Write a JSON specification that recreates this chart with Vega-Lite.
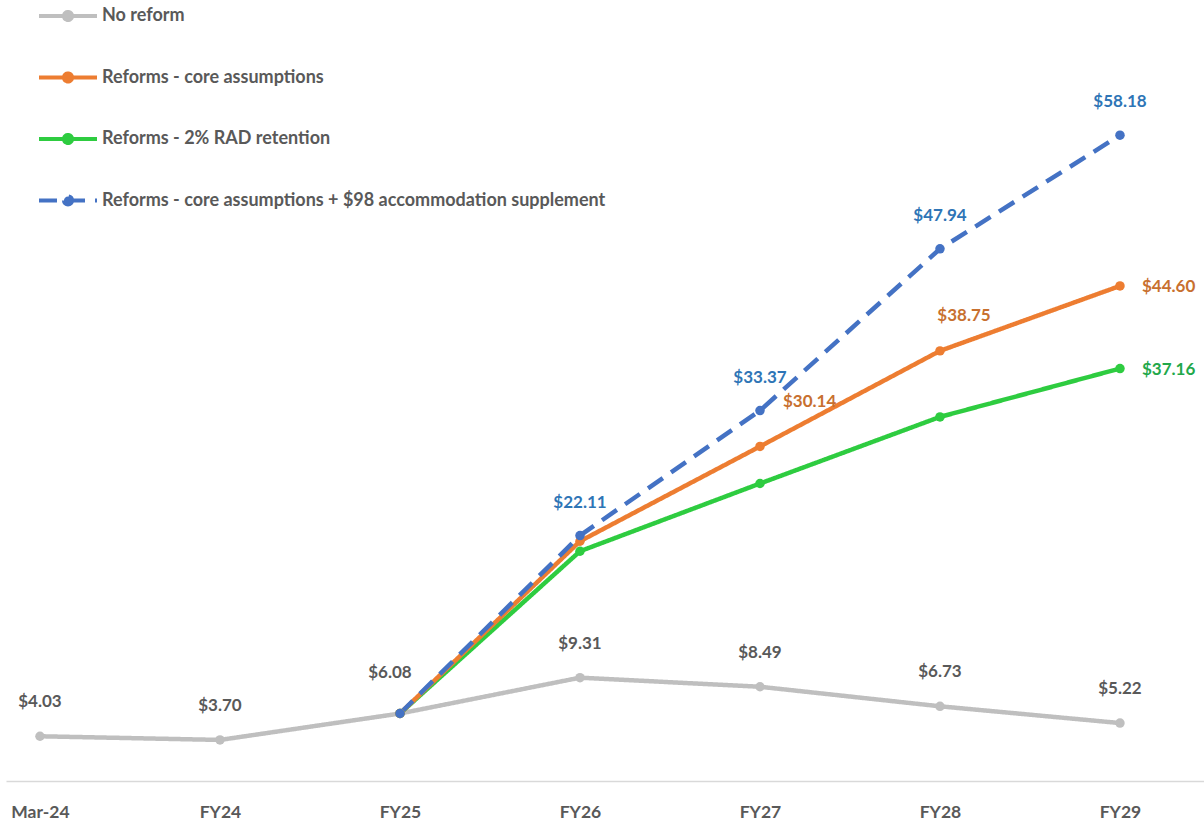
{
  "$schema": "https://vega.github.io/schema/vega-lite/v6.json",
  "width": 1198,
  "height": 777,
  "autosize": {"type": "none"},
  "padding": {"left": 6, "top": 4, "right": 0, "bottom": 43},
  "background": "white",
  "config": {"view": {"stroke": null}, "font": "Lato"},
  "data": {
    "values": [
      {"series": "No reform", "period": "Mar-24", "value": 4.03},
      {"series": "No reform", "period": "FY24", "value": 3.70},
      {"series": "No reform", "period": "FY25", "value": 6.08},
      {"series": "No reform", "period": "FY26", "value": 9.31},
      {"series": "No reform", "period": "FY27", "value": 8.49},
      {"series": "No reform", "period": "FY28", "value": 6.73},
      {"series": "No reform", "period": "FY29", "value": 5.22},
      {"series": "Reforms - 2% RAD retention", "period": "FY25", "value": 6.08},
      {"series": "Reforms - 2% RAD retention", "period": "FY26", "value": 20.7},
      {"series": "Reforms - 2% RAD retention", "period": "FY27", "value": 26.8},
      {"series": "Reforms - 2% RAD retention", "period": "FY28", "value": 32.8},
      {"series": "Reforms - 2% RAD retention", "period": "FY29", "value": 37.16},
      {"series": "Reforms - core assumptions", "period": "FY25", "value": 6.08},
      {"series": "Reforms - core assumptions", "period": "FY26", "value": 21.6},
      {"series": "Reforms - core assumptions", "period": "FY27", "value": 30.14},
      {"series": "Reforms - core assumptions", "period": "FY28", "value": 38.75},
      {"series": "Reforms - core assumptions", "period": "FY29", "value": 44.60},
      {"series": "Reforms - core assumptions + $98 accommodation supplement", "period": "FY25", "value": 6.08},
      {"series": "Reforms - core assumptions + $98 accommodation supplement", "period": "FY26", "value": 22.11},
      {"series": "Reforms - core assumptions + $98 accommodation supplement", "period": "FY27", "value": 33.37},
      {"series": "Reforms - core assumptions + $98 accommodation supplement", "period": "FY28", "value": 47.94},
      {"series": "Reforms - core assumptions + $98 accommodation supplement", "period": "FY29", "value": 58.18}
    ]
  },
  "encoding": {
    "x": {
      "field": "period", "type": "ordinal",
      "sort": ["Mar-24", "FY24", "FY25", "FY26", "FY27", "FY28", "FY29"],
      "scale": {"type": "point", "padding": 0.3278, "align": 0.288},
      "axis": {"title": null, "labelAngle": 0, "ticks": false, "grid": false, "domainColor": "#D9D9D9", "domainWidth": 1.5, "labelFont": "Lato", "labelFontSize": 17.5, "labelFontWeight": "bold", "labelColor": "#595959", "labelPadding": 22}
    },
    "y": {"field": "value", "type": "quantitative", "scale": {"domain": [0, 70]}, "axis": null}
  },
  "layer": [
    {
      "mark": {"type": "line", "strokeWidth": 4.5, "point": {"filled": true, "size": 90, "opacity": 1}},
      "encoding": {
        "color": {
          "field": "series", "type": "nominal",
          "scale": {
            "domain": ["No reform", "Reforms - core assumptions", "Reforms - 2% RAD retention", "Reforms - core assumptions + $98 accommodation supplement"],
            "range": ["#BFBFBF", "#ED7D31", "#2ECC40", "#4472C4"]
          },
          "legend": {"title": null, "orient": "none", "legendX": 31, "legendY": -19, "padding": 0, "symbolType": "M-1,0H1M-0.14,0A0.14,0.14 0 1,0 0.14,0A0.14,0.14 0 1,0 -0.14,0Z", "symbolSize": 3364, "symbolStrokeWidth": 4, "labelFont": "Lato", "labelFontSize": 18, "labelFontWeight": "bold", "labelColor": "#595959", "labelOffset": 3, "rowPadding": 17.5, "labelLimit": 0, "encode": {"symbols": {"update": {"fill": {"scale": "color", "field": "value"}, "opacity": {"value": 1}}}}}
        },
        "strokeDash": {
          "field": "series", "type": "nominal",
          "scale": {
            "domain": ["No reform", "Reforms - core assumptions", "Reforms - 2% RAD retention", "Reforms - core assumptions + $98 accommodation supplement"],
            "range": [[1, 0], [1, 0], [1, 0], [18, 10]]
          },
          "legend": {"title": null, "orient": "none", "legendX": 31, "legendY": -19, "padding": 0, "symbolType": "M-1,0H1M-0.14,0A0.14,0.14 0 1,0 0.14,0A0.14,0.14 0 1,0 -0.14,0Z", "symbolSize": 3364, "symbolStrokeWidth": 4, "labelFont": "Lato", "labelFontSize": 18, "labelFontWeight": "bold", "labelColor": "#595959", "labelOffset": 3, "rowPadding": 17.5, "labelLimit": 0, "encode": {"symbols": {"update": {"fill": {"scale": "color", "field": "value"}, "opacity": {"value": 1}}}}}
        }
      }
    },
    {
      "transform": [{"filter": "datum.series === 'No reform' && datum.period !== 'FY25'"}],
      "mark": {"type": "text", "font": "Lato", "fontSize": 17, "fontWeight": "bold", "color": "#595959", "dy": -34},
      "encoding": {"text": {"field": "value", "type": "quantitative", "format": "$.2f"}}
    },
    {
      "transform": [{"filter": "datum.series === 'No reform' && datum.period === 'FY25'"}],
      "mark": {"type": "text", "font": "Lato", "fontSize": 17, "fontWeight": "bold", "color": "#595959", "dx": -10, "dy": -41},
      "encoding": {"text": {"field": "value", "type": "quantitative", "format": "$.2f"}}
    },
    {
      "transform": [{"filter": "datum.series === 'Reforms - core assumptions + $98 accommodation supplement' && datum.period !== 'FY25'"}],
      "mark": {"type": "text", "font": "Lato", "fontSize": 17, "fontWeight": "bold", "color": "#2E75B6", "dy": -33},
      "encoding": {"text": {"field": "value", "type": "quantitative", "format": "$.2f"}}
    },
    {
      "transform": [{"filter": "datum.series === 'Reforms - core assumptions' && datum.period === 'FY28'"}],
      "mark": {"type": "text", "font": "Lato", "fontSize": 17, "fontWeight": "bold", "color": "#C8702F", "dx": 24, "dy": -35},
      "encoding": {"text": {"field": "value", "type": "quantitative", "format": "$.2f"}}
    },
    {
      "transform": [{"filter": "datum.series === 'Reforms - core assumptions' && datum.period === 'FY27'"}],
      "mark": {"type": "text", "font": "Lato", "fontSize": 17, "fontWeight": "bold", "color": "#C8702F", "align": "left", "dx": 23, "dy": -44},
      "encoding": {"text": {"field": "value", "type": "quantitative", "format": "$.2f"}}
    },
    {
      "transform": [{"filter": "datum.series === 'Reforms - core assumptions' && datum.period === 'FY29'"}],
      "mark": {"type": "text", "font": "Lato", "fontSize": 17, "fontWeight": "bold", "color": "#C8702F", "align": "left", "dx": 22, "dy": 1},
      "encoding": {"text": {"field": "value", "type": "quantitative", "format": "$.2f"}}
    },
    {
      "transform": [{"filter": "datum.series === 'Reforms - 2% RAD retention' && datum.period === 'FY29'"}],
      "mark": {"type": "text", "font": "Lato", "fontSize": 17, "fontWeight": "bold", "color": "#22A84A", "align": "left", "dx": 22, "dy": 1},
      "encoding": {"text": {"field": "value", "type": "quantitative", "format": "$.2f"}}
    }
  ]
}
